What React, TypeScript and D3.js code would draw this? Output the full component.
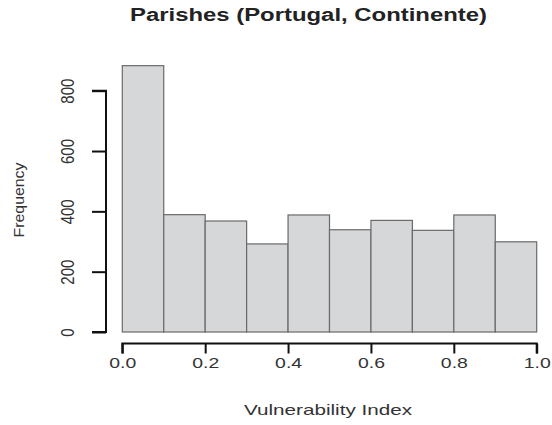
import React, { useRef, useEffect } from "react";
import * as d3 from "d3";

// histogram bins (Vulnerability Index) and their counts
const binEdges = [0.0, 0.1, 0.2, 0.3, 0.4, 0.5, 0.6, 0.7, 0.8, 0.9, 1.0];
const counts = [883, 389, 368, 292, 388, 339, 370, 337, 388, 299];
const xTicks = [0.0, 0.2, 0.4, 0.6, 0.8, 1.0];
const yTicks = [0, 200, 400, 600, 800];

const App = () => {
  const ref = useRef<SVGSVGElement>(null);

  useEffect(() => {
    const svg = d3.select(ref.current);
    svg.selectAll("*").remove();
    const font = "'Liberation Sans', Arial, Helvetica, sans-serif";

    const x = d3.scaleLinear().domain([0, 1]).range([122.3, 536.7]);
    const y = d3.scaleLinear().domain([0, 800]).range([332, 90.7]);

    // bars
    const bins = counts.map((c, i) => ({ x0: binEdges[i], x1: binEdges[i + 1], c }));
    svg.append("g")
      .selectAll("rect")
      .data(bins)
      .join("rect")
      .attr("x", d => x(d.x0))
      .attr("y", d => y(d.c))
      .attr("width", d => x(d.x1) - x(d.x0))
      .attr("height", d => y(0) - y(d.c))
      .attr("fill", "#d6d7d9")
      .attr("stroke", "#6a6a6a")
      .attr("stroke-width", 1.2);

    // x axis (R style: detached below the plot)
    const xAxis = d3.axisBottom(x).tickValues(xTicks).tickSize(10).tickFormat(d3.format(".1f"));
    const gx = svg.append("g").attr("transform", "translate(0, 343.5)").call(xAxis);
    gx.select(".domain").attr("d", `M${x(0)},10V0H${x(1)}V10`).attr("stroke", "#111").attr("stroke-width", 2);
    gx.selectAll(".tick line").attr("stroke", "#111").attr("stroke-width", 2);
    gx.selectAll(".tick text")
      .attr("y", 24.5)
      .attr("dy", 0)
      .attr("fill", "#333")
      .attr("font-family", font)
      .attr("font-size", 15)
      .attr("textLength", 27)
      .attr("lengthAdjust", "spacingAndGlyphs");

    // y axis
    const yAxis = d3.axisLeft(y).tickValues(yTicks).tickSize(14);
    const gy = svg.append("g").attr("transform", "translate(106, 0)").call(yAxis);
    gy.select(".domain").attr("d", `M-14,${y(0)}H0V${y(800)}H-14`).attr("stroke", "#111").attr("stroke-width", 2);
    gy.selectAll(".tick line").attr("stroke", "#111").attr("stroke-width", 2);
    gy.selectAll(".tick text")
      .attr("x", 0)
      .attr("dy", 0)
      .attr("transform", "translate(-32, 0) scale(1.22, 1) rotate(-90)")
      .attr("text-anchor", "middle")
      .attr("fill", "#333")
      .attr("font-family", font)
      .attr("font-size", 15);

    // title
    svg.append("text")
      .attr("x", 308.5)
      .attr("y", 21)
      .attr("text-anchor", "middle")
      .attr("font-family", font)
      .attr("font-weight", "bold")
      .attr("font-size", 18)
      .attr("fill", "#222")
      .attr("textLength", 357)
      .attr("lengthAdjust", "spacingAndGlyphs")
      .text("Parishes (Portugal, Continente)");

    // axis labels
    svg.append("text")
      .attr("x", 328)
      .attr("y", 414.5)
      .attr("text-anchor", "middle")
      .attr("font-family", font)
      .attr("font-size", 14.5)
      .attr("fill", "#333")
      .attr("textLength", 168)
      .attr("lengthAdjust", "spacingAndGlyphs")
      .text("Vulnerability Index");

    svg.append("text")
      .attr("transform", "translate(23.5, 200) rotate(-90)")
      .attr("text-anchor", "middle")
      .attr("font-family", font)
      .attr("font-size", 15)
      .attr("fill", "#333")
      .attr("textLength", 75)
      .attr("lengthAdjust", "spacingAndGlyphs")
      .text("Frequency");
  }, []);

  return (
    <svg
      ref={ref}
      width={552}
      height={425}
      style={{ position: "absolute", left: 0, top: 0, background: "#fff" }}
    />
  );
};

export default App;
